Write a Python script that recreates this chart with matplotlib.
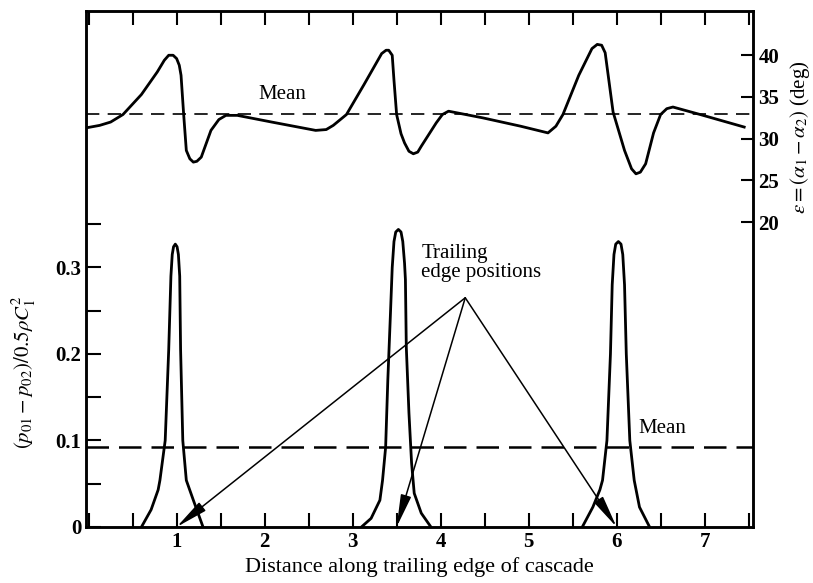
import matplotlib.pyplot as plt
import matplotlib.ticker as mticker

# upper trace: flow deviation angle (deg) along the trailing edge
upper_x = [-0.03, 0.125, 0.25, 0.39, 0.60, 0.78, 0.86, 0.91, 0.96, 1.0, 1.03, 1.05, 1.08, 1.11, 1.15,
           1.19, 1.23, 1.28, 1.39, 1.48, 1.56, 1.69, 2.08, 2.58, 2.70, 2.78, 2.93, 3.13, 3.33, 3.38,
           3.41, 3.45, 3.47, 3.50, 3.55, 3.59, 3.64, 3.69, 3.74, 3.78, 3.95, 4.02, 4.09, 4.48,
           4.91, 5.22, 5.31, 5.39, 5.57, 5.72, 5.78, 5.83, 5.87, 5.96, 6.09, 6.17, 6.22, 6.27,
           6.33, 6.42, 6.50, 6.57, 6.64, 6.95, 7.45]
upper_deg = [31.3, 31.6, 32.0, 32.9, 35.3, 38.0, 39.4, 40.0, 40.0, 39.6, 38.8, 37.6, 32.9, 28.6, 27.6,
             27.2, 27.3, 27.8, 31.0, 32.3, 32.8, 32.8, 32.0, 31.0, 31.1, 31.6, 32.9, 36.5, 40.2, 40.6,
             40.6, 40.0, 37.0, 32.9, 30.6, 29.5, 28.5, 28.2, 28.4, 29.1, 31.9, 32.9, 33.3, 32.5,
             31.5, 30.7, 31.5, 32.9, 37.6, 40.8, 41.3, 41.2, 40.3, 33.2, 28.6, 26.4, 25.8, 26.0,
             27.0, 30.7, 32.9, 33.6, 33.8, 32.9, 31.4]
angle_mean = 33.0

# lower trace: stagnation pressure loss coefficient, one wake per blade
peak1_x = [0.60, 0.71, 0.79, 0.81, 0.87, 0.91, 0.935, 0.95, 0.965, 0.985, 1.005, 1.02, 1.035,
           1.045, 1.07, 1.11, 1.19, 1.30]
peak1_y = [0.0, 0.020, 0.043, 0.054, 0.10, 0.205, 0.29, 0.315, 0.324, 0.327, 0.324, 0.315, 0.29,
           0.205, 0.10, 0.054, 0.031, 0.0]
peak2_x = [3.10, 3.21, 3.31, 3.34, 3.375, 3.40, 3.43, 3.45, 3.47, 3.49, 3.52, 3.55, 3.57, 3.59,
           3.60, 3.61, 3.64, 3.67, 3.70, 3.78, 3.89]
peak2_y = [0.0, 0.010, 0.031, 0.054, 0.092, 0.17, 0.247, 0.30, 0.33, 0.341, 0.344, 0.341, 0.33,
           0.305, 0.286, 0.208, 0.132, 0.074, 0.039, 0.016, 0.0]
peak3_x = [5.61, 5.73, 5.81, 5.84, 5.89, 5.93, 5.95, 5.97, 5.99, 6.02, 6.05, 6.07, 6.09, 6.11,
           6.15, 6.20, 6.26, 6.375]
peak3_y = [0.0, 0.023, 0.043, 0.054, 0.10, 0.20, 0.28, 0.315, 0.327, 0.33, 0.327, 0.315, 0.28,
           0.20, 0.10, 0.054, 0.023, 0.0]
loss_mean = 0.092

te_positions = [1.0, 3.5, 6.0]

serif = 'Liberation Serif'
plt.rcParams['font.family'] = serif
plt.rcParams['mathtext.fontset'] = 'stix'

fig = plt.figure(figsize=(8.13, 5.83), dpi=100)
ax = fig.add_axes([86 / 813, 1 - 527 / 583, 667 / 813, 516 / 583])
ax.set_xlim(-0.03, 7.55)
ax.set_ylim(0, 0.5965)

for px, py in [(peak1_x, peak1_y), (peak2_x, peak2_y), (peak3_x, peak3_y)]:
    ax.plot(px, py, color='k', lw=2.0, solid_joinstyle='round', solid_capstyle='round')
ax.axhline(loss_mean, color='k', lw=1.8, dashes=(9, 4))

ax.xaxis.set_major_locator(mticker.MultipleLocator(1))
ax.xaxis.set_minor_locator(mticker.MultipleLocator(0.5))
ax.xaxis.set_major_formatter(mticker.FuncFormatter(lambda v, p: '%d' % v if v > 0.5 else ''))
ax.set_yticks([0, 0.1, 0.2, 0.3])
ax.set_yticklabels(['0', '0.1', '0.2', '0.3'])
ax.set_yticks([0.05, 0.15, 0.25, 0.35], minor=True)
ax.tick_params(which='both', direction='in', top=True, width=1.5, labelsize=15)
ax.tick_params(axis='x', which='both', length=10)
ax.tick_params(axis='y', which='both', length=11)
for lab in ax.get_xticklabels() + ax.get_yticklabels():
    lab.set_fontweight('bold')
for s in ax.spines.values():
    s.set_linewidth(1.8)

ax.set_xlabel('Distance along trailing edge of cascade', fontsize=16, labelpad=4)
ax.text(-0.092, 0.30, r'$(p_{01}-p_{02})/0.5\rho C_1^2$', transform=ax.transAxes,
        rotation=90, ha='center', va='center', fontsize=15)

ax2 = ax.twinx()
ax2.set_ylim(-16.5, 45.3)
ax2.plot(upper_x, upper_deg, color='k', lw=2.0, solid_joinstyle='round')
ax2.axhline(angle_mean, color='k', lw=1.2, dashes=(8, 5))
ax2.set_yticks([20, 25, 30, 35, 40])
ax2.tick_params(direction='in', length=9, width=1.5, labelsize=15, pad=4)
for lab in ax2.get_yticklabels():
    lab.set_fontweight('bold')
ax2.text(1.07, 0.755, r'$\epsilon = (\alpha_1 - \alpha_2)$ (deg)', transform=ax2.transAxes,
         rotation=90, ha='center', va='center', fontsize=15)
for s in ax2.spines.values():
    s.set_linewidth(1.8)

ax2.text(1.93, 35.3, 'Mean', fontsize=15, va='center', ha='left')

ax.text(3.78, 0.305, 'Trailing\nedge positions', fontsize=15, ha='left', va='center',
        linespacing=1.0)
apex = (4.28, 0.265)
for xp in te_positions:
    ax.annotate('', xy=(xp, 0), xytext=apex,
                arrowprops=dict(arrowstyle='-|>,head_length=1.1,head_width=0.18', color='k',
                                lw=1.1, shrinkA=0, shrinkB=0, mutation_scale=18))
ax.text(6.25, 0.114, 'Mean', fontsize=15, va='center', ha='left')

fig.savefig('out.png', dpi=100)
